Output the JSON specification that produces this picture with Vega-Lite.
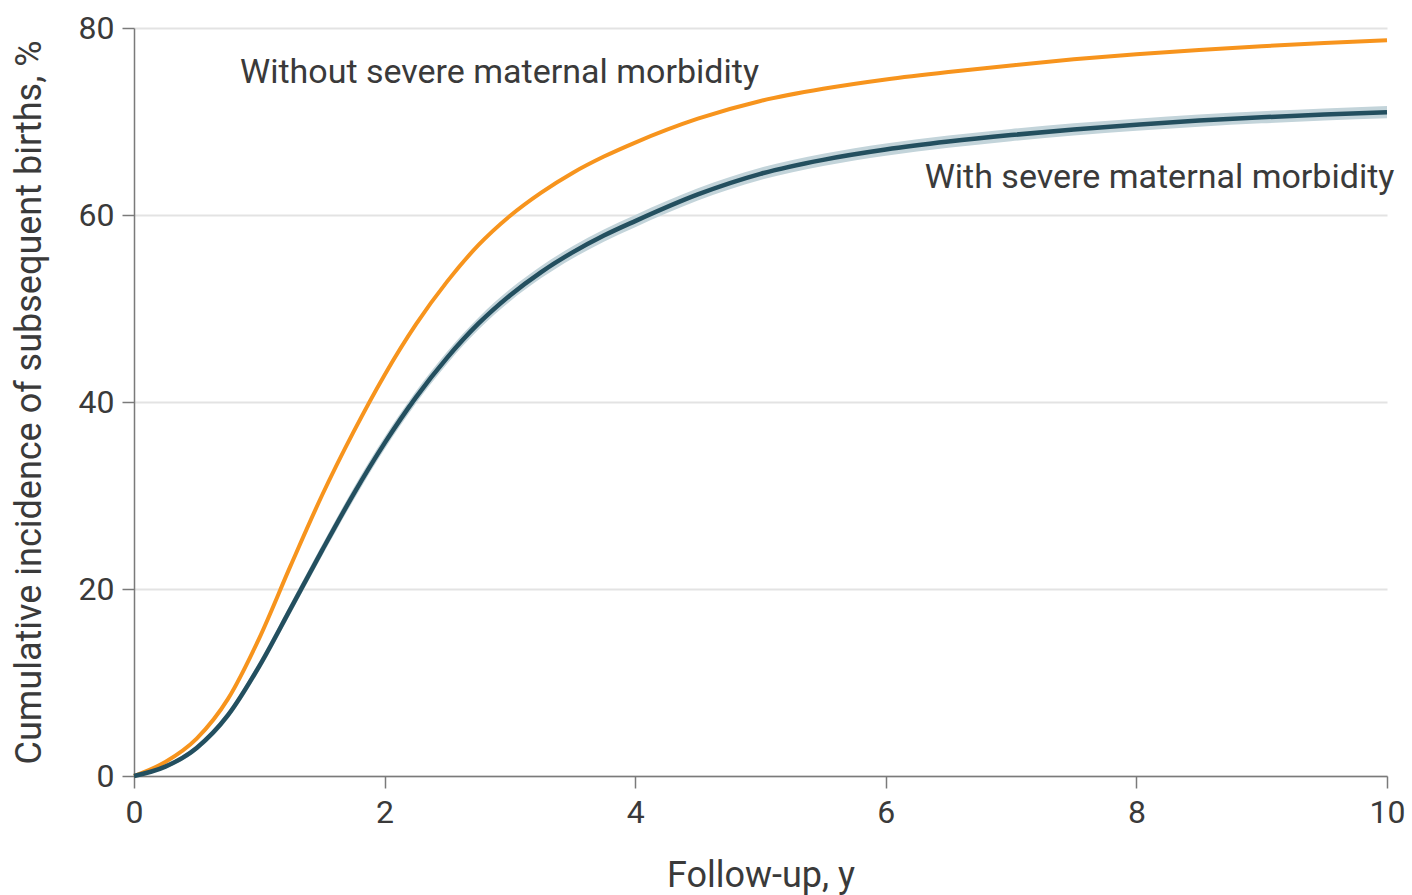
{
  "$schema": "https://vega.github.io/schema/vega-lite/v6.json",
  "width": 1253,
  "height": 748,
  "autosize": {"type": "none"},
  "padding": {"left": 134, "top": 28, "right": 25, "bottom": 119},
  "background": "white",
  "config": {
    "view": {"stroke": null},
    "font": "Roboto",
    "axis": {
      "domainColor": "#7a7a7a",
      "domainWidth": 1.5,
      "tickColor": "#7a7a7a",
      "tickWidth": 1.5,
      "tickSize": 12,
      "labelFont": "Roboto",
      "labelFontSize": 32,
      "labelColor": "#3a3a3a",
      "labelFlush": false,
      "labelOverlap": false,
      "titleFont": "Roboto",
      "titleFontSize": 36,
      "titleFontWeight": "normal",
      "titleColor": "#3a3a3a",
      "gridColor": "#e3e3e3",
      "gridWidth": 2
    }
  },
  "data": {
    "values": [
      {"t": 0, "group": "Without", "v": 0},
      {"t": 0.25, "group": "Without", "v": 1.5},
      {"t": 0.5, "group": "Without", "v": 4.0},
      {"t": 0.75, "group": "Without", "v": 8.25},
      {"t": 1.0, "group": "Without", "v": 14.75},
      {"t": 1.25, "group": "Without", "v": 22.5},
      {"t": 1.5, "group": "Without", "v": 30.0},
      {"t": 1.75, "group": "Without", "v": 36.75},
      {"t": 2.0, "group": "Without", "v": 42.9},
      {"t": 2.25, "group": "Without", "v": 48.3},
      {"t": 2.5, "group": "Without", "v": 52.9},
      {"t": 2.75, "group": "Without", "v": 56.8},
      {"t": 3.0, "group": "Without", "v": 59.9},
      {"t": 3.25, "group": "Without", "v": 62.4},
      {"t": 3.5, "group": "Without", "v": 64.5},
      {"t": 3.75, "group": "Without", "v": 66.25},
      {"t": 4.0, "group": "Without", "v": 67.75},
      {"t": 4.5, "group": "Without", "v": 70.3},
      {"t": 5.0, "group": "Without", "v": 72.2},
      {"t": 5.5, "group": "Without", "v": 73.5},
      {"t": 6.0, "group": "Without", "v": 74.5},
      {"t": 6.5, "group": "Without", "v": 75.3},
      {"t": 7.0, "group": "Without", "v": 76.0},
      {"t": 7.5, "group": "Without", "v": 76.65},
      {"t": 8.0, "group": "Without", "v": 77.2},
      {"t": 8.5, "group": "Without", "v": 77.65},
      {"t": 9.0, "group": "Without", "v": 78.05},
      {"t": 9.5, "group": "Without", "v": 78.4},
      {"t": 10.0, "group": "Without", "v": 78.7},
      {"t": 0, "group": "With", "v": 0, "lo": 0, "hi": 0},
      {"t": 0.25, "group": "With", "v": 1.0, "lo": 0.8, "hi": 1.2},
      {"t": 0.5, "group": "With", "v": 3.0, "lo": 2.7, "hi": 3.3},
      {"t": 0.75, "group": "With", "v": 6.5, "lo": 6.1, "hi": 6.9},
      {"t": 1.0, "group": "With", "v": 11.75, "lo": 11.25, "hi": 12.25},
      {"t": 1.25, "group": "With", "v": 17.9, "lo": 17.35, "hi": 18.45},
      {"t": 1.5, "group": "With", "v": 24.1, "lo": 23.5, "hi": 24.7},
      {"t": 1.75, "group": "With", "v": 30.1, "lo": 29.45, "hi": 30.75},
      {"t": 2.0, "group": "With", "v": 35.6, "lo": 34.95, "hi": 36.25},
      {"t": 2.25, "group": "With", "v": 40.5, "lo": 39.85, "hi": 41.15},
      {"t": 2.5, "group": "With", "v": 44.75, "lo": 44.1, "hi": 45.4},
      {"t": 2.75, "group": "With", "v": 48.4, "lo": 47.75, "hi": 49.05},
      {"t": 3.0, "group": "With", "v": 51.4, "lo": 50.75, "hi": 52.05},
      {"t": 3.25, "group": "With", "v": 53.9, "lo": 53.25, "hi": 54.55},
      {"t": 3.5, "group": "With", "v": 56.0, "lo": 55.35, "hi": 56.65},
      {"t": 3.75, "group": "With", "v": 57.8, "lo": 57.15, "hi": 58.45},
      {"t": 4.0, "group": "With", "v": 59.35, "lo": 58.7, "hi": 60.0},
      {"t": 4.5, "group": "With", "v": 62.2, "lo": 61.55, "hi": 62.85},
      {"t": 5.0, "group": "With", "v": 64.4, "lo": 63.75, "hi": 65.05},
      {"t": 5.5, "group": "With", "v": 65.9, "lo": 65.25, "hi": 66.55},
      {"t": 6.0, "group": "With", "v": 67.0, "lo": 66.35, "hi": 67.65},
      {"t": 6.5, "group": "With", "v": 67.85, "lo": 67.2, "hi": 68.5},
      {"t": 7.0, "group": "With", "v": 68.55, "lo": 67.9, "hi": 69.2},
      {"t": 7.5, "group": "With", "v": 69.15, "lo": 68.5, "hi": 69.8},
      {"t": 8.0, "group": "With", "v": 69.65, "lo": 69.0, "hi": 70.3},
      {"t": 8.5, "group": "With", "v": 70.1, "lo": 69.45, "hi": 70.75},
      {"t": 9.0, "group": "With", "v": 70.45, "lo": 69.8, "hi": 71.1},
      {"t": 9.5, "group": "With", "v": 70.75, "lo": 70.1, "hi": 71.4},
      {"t": 10.0, "group": "With", "v": 71.0, "lo": 70.35, "hi": 71.65}
    ]
  },
  "encoding": {
    "x": {
      "field": "t",
      "type": "quantitative",
      "scale": {"domain": [0, 10], "nice": false},
      "axis": {"values": [0, 2, 4, 6, 8, 10], "grid": false, "title": "Follow-up, y", "labelPadding": 9, "titlePadding": 30}
    },
    "y": {
      "field": "v",
      "type": "quantitative",
      "scale": {"domain": [0, 80], "nice": false},
      "axis": {"values": [0, 20, 40, 60, 80], "grid": true, "title": "Cumulative incidence of subsequent births, %", "labelPadding": 8, "titlePadding": 30}
    }
  },
  "layer": [
    {
      "transform": [{"filter": "datum.group === 'With'"}],
      "mark": {"type": "area", "color": "#c3d4da", "opacity": 1, "interpolate": "monotone"},
      "encoding": {
        "y": {"field": "lo", "type": "quantitative"},
        "y2": {"field": "hi"}
      }
    },
    {
      "transform": [{"filter": "datum.group === 'Without'"}],
      "mark": {"type": "line", "color": "#f7941d", "strokeWidth": 4, "interpolate": "monotone"}
    },
    {
      "transform": [{"filter": "datum.group === 'With'"}],
      "mark": {"type": "line", "color": "#234f5f", "strokeWidth": 4.5, "interpolate": "monotone"}
    },
    {
      "data": {
        "values": [
          {"t": 0.846, "v": 74.1, "label": "Without severe maternal morbidity"},
          {"t": 6.31, "v": 62.9, "label": "With severe maternal morbidity"}
        ]
      },
      "mark": {"type": "text", "align": "left", "baseline": "alphabetic", "font": "Roboto", "fontSize": 34, "color": "#3a3a3a"},
      "encoding": {
        "x": {"field": "t", "type": "quantitative"},
        "y": {"field": "v", "type": "quantitative"},
        "text": {"field": "label"}
      }
    }
  ]
}
